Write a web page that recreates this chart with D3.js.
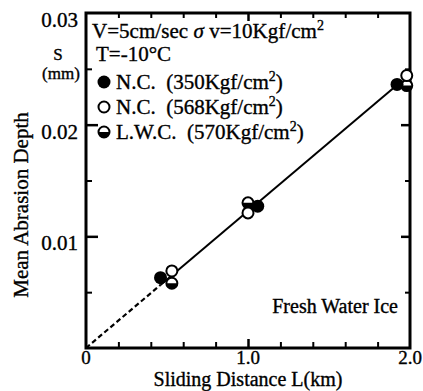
<!DOCTYPE html>
<html>
<head>
<meta charset="utf-8">
<script src="https://cdn.jsdelivr.net/npm/d3@7"></script>
<style>
body { margin: 0; background: #fff; }
svg text, svg tspan { font-family: "Liberation Serif", "Times New Roman", Times, serif !important; fill: #000; }
svg text { stroke: #000; stroke-width: 0.35px; }
</style>
</head>
<body>
<script>
(function(){

//data
var ncLow = [[0.46, 0.0063], [1.06, 0.0127], [1.92, 0.0236]];      //N.C. 350, filled
var ncHigh = [[0.53, 0.0069], [1.0, 0.0121], [1.98, 0.0244]];      //N.C. 568, open
var lwc = [[0.53, 0.0058], [1.0, 0.0130], [1.98, 0.0235]];         //L.W.C. 570, half
var fitDashed = [[0, 0], [0.46, 0.00565]];
var fitSolid = [[0.46, 0.00565], [1.92, 0.02356]];
var xTickLabels = ["0", "1.0", "2.0"];
var yTickLabels = ["0.01", "0.02", "0.03"];
var legendLabels = ["N.C.  (350Kgf/cm", "N.C.  (568Kgf/cm", "L.W.C.  (570Kgf/cm"];

var width = 423, height = 391;
var left = 86, right = 410, top = 13, bottom = 348;
var serif = "Liberation Serif, Times New Roman, Times, serif";

var svg = d3.select("body").append("svg")
    .attr("width", width)
    .attr("height", height)
    .attr("font-family", serif);

var x = d3.scaleLinear().domain([0, 2]).range([left, right]);
var y = d3.scaleLinear().domain([0, 0.03]).range([bottom, top]);

//helper for text
function addText(px, py, size, str){
    return svg.append("text")
        .attr("x", px).attr("y", py)
        .attr("font-family", serif)
        .attr("font-size", size)
        .text(str);
}

//ticks inside the frame on all four sides
var xMinor = [0.2, 0.4, 0.6, 0.8, 1.2, 1.4, 1.6, 1.8];
var xMajor = [1.0];
var yMinor = [0.005, 0.015, 0.025];
var yMajor = [0.01, 0.02];

function clean(g, w){
    g.select(".domain").remove();
    g.selectAll("line").attr("stroke-width", w);
}

svg.append("g").attr("transform", "translate(0," + bottom + ")")
    .call(d3.axisTop(x).tickValues(xMinor).tickSize(6).tickFormat(""))
    .call(clean, 2);
svg.append("g").attr("transform", "translate(0," + bottom + ")")
    .call(d3.axisTop(x).tickValues(xMajor).tickSize(9).tickFormat(""))
    .call(clean, 2.5);
svg.append("g").attr("transform", "translate(0," + top + ")")
    .call(d3.axisBottom(x).tickValues(xMinor).tickSize(5).tickFormat(""))
    .call(clean, 2);
svg.append("g").attr("transform", "translate(0," + top + ")")
    .call(d3.axisBottom(x).tickValues(xMajor).tickSize(8).tickFormat(""))
    .call(clean, 2.5);
svg.append("g").attr("transform", "translate(" + left + ",0)")
    .call(d3.axisRight(y).tickValues(yMinor).tickSize(6).tickFormat(""))
    .call(clean, 2);
svg.append("g").attr("transform", "translate(" + left + ",0)")
    .call(d3.axisRight(y).tickValues(yMajor).tickSize(12).tickFormat(""))
    .call(clean, 2.5);
svg.append("g").attr("transform", "translate(" + right + ",0)")
    .call(d3.axisLeft(y).tickValues(yMinor).tickSize(5).tickFormat(""))
    .call(clean, 2);
svg.append("g").attr("transform", "translate(" + right + ",0)")
    .call(d3.axisLeft(y).tickValues(yMajor).tickSize(9).tickFormat(""))
    .call(clean, 2.5);

//frame
svg.append("rect")
    .attr("x", left).attr("y", top)
    .attr("width", right - left).attr("height", bottom - top)
    .attr("fill", "none").attr("stroke", "#000").attr("stroke-width", 3);

//tick labels
xTickLabels.forEach(function(d){
    addText(x(+d), 364, 19, d).attr("text-anchor", "middle");
});
yTickLabels.forEach(function(d){
    addText(78, y(+d) + 14, 21, d).attr("text-anchor", "end");
});

//axis titles
addText(248, 386, 20, "Sliding Distance L(km)").attr("text-anchor", "middle");
svg.append("text").attr("transform", "translate(28,205) rotate(-90)")
    .attr("text-anchor", "middle")
    .attr("font-family", serif)
    .attr("font-size", 21)
    .text("Mean Abrasion Depth");
addText(58, 60, 17, "S").attr("text-anchor", "middle");
addText(61, 79, 17, "(mm)").attr("text-anchor", "middle");

//fitted line
var line = d3.line().x(function(d){ return x(d[0]); }).y(function(d){ return y(d[1]); });
svg.append("path").attr("d", line(fitDashed)).attr("fill", "none").attr("stroke", "#000")
    .attr("stroke-width", 2.2).attr("stroke-dasharray", "5,3");
svg.append("path").attr("d", line(fitSolid)).attr("fill", "none").attr("stroke", "#000")
    .attr("stroke-width", 2);

//markers
var r = 5.5;
function halfCircle(g, cx, cy){
    g.append("circle").attr("cx", cx).attr("cy", cy).attr("r", r).attr("fill", "#fff");
    g.append("path")
        .attr("d", "M" + (cx - r) + "," + cy + " A" + r + "," + r + " 0 0 0 " + (cx + r) + "," + cy + " Z")
        .attr("fill", "#000");
    g.append("circle").attr("cx", cx).attr("cy", cy).attr("r", r)
        .attr("fill", "none").attr("stroke", "#000").attr("stroke-width", 2);
}
var marks = svg.append("g");
lwc.forEach(function(d){ halfCircle(marks, x(d[0]), y(d[1])); });
marks.selectAll(".open").data(ncHigh).enter().append("circle")
    .attr("cx", function(d){ return x(d[0]); }).attr("cy", function(d){ return y(d[1]); })
    .attr("r", r).attr("fill", "#fff").attr("stroke", "#000").attr("stroke-width", 2);
marks.selectAll(".filled").data(ncLow).enter().append("circle")
    .attr("cx", function(d){ return x(d[0]); }).attr("cy", function(d){ return y(d[1]); })
    .attr("r", r + 1).attr("fill", "#000");

//annotation
var t1 = addText(92, 38, 21, null).attr("textLength", 232).attr("lengthAdjust", "spacing");
t1.append("tspan").text("V=5cm/sec ");
t1.append("tspan").attr("font-style", "italic").text("σ");
t1.append("tspan").text(" v=10Kgf/cm");
t1.append("tspan").attr("dy", -8).attr("font-size", 14).text("2");
addText(96, 61, 21, "T=-10°C");

//legend
legendLabels.forEach(function(lab, i){
    var ly = 82 + i * 25;
    if (i == 0) marks.append("circle").attr("cx", 104).attr("cy", ly).attr("r", r + 1).attr("fill", "#000");
    if (i == 1) marks.append("circle").attr("cx", 104).attr("cy", ly).attr("r", r)
        .attr("fill", "#fff").attr("stroke", "#000").attr("stroke-width", 2);
    if (i == 2) halfCircle(marks, 104, ly);
    var t = addText(116, ly + 7, 21, null)
        .attr("xml:space", "preserve")
        .style("white-space", "pre");
    t.append("tspan").text(lab);
    t.append("tspan").attr("dy", -8).attr("font-size", 14).text("2");
    t.append("tspan").attr("dy", 8).text(")");
});

addText(398, 313, 20, "Fresh Water Ice").attr("text-anchor", "end");

})();
</script>
</body>
</html>
